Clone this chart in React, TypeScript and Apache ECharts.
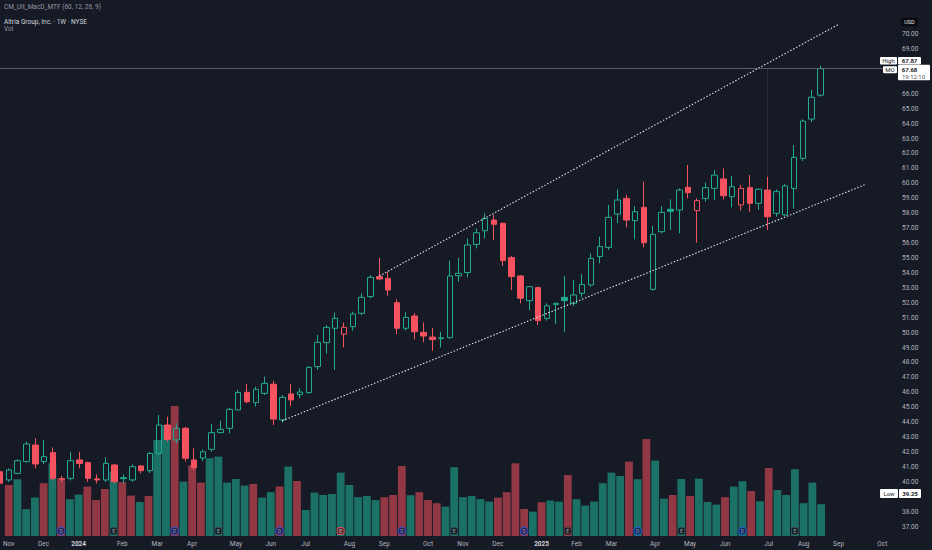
import React, { useEffect, useRef } from 'react';
import * as echarts from 'echarts';

// ---- Data ----
const START_WEEK = '2023-11-06';
const WEEK_SLOTS = 102; // weekly categories, incl. empty future weeks up to Oct 2025

const opens = [
  40.68, 40.13, 40.57, 41.36, 42.47, 41.36, 41.96, 40.18, 40.24, 41.47,
  41.29, 40.20, 40.13, 41.13, 40.28, 40.13, 41.07, 40.75, 41.90, 43.81,
  42.81, 43.59, 41.47, 41.60, 42.18, 43.30, 43.59, 44.82, 46.00, 45.31,
  45.93, 46.54, 44.15, 45.89, 45.84, 45.98, 47.72, 49.33, 50.29, 49.90,
  50.40, 51.29, 52.41, 53.75, 53.63, 52.00, 50.29, 51.11, 50.02, 49.70,
  49.60, 49.66, 53.81, 54.02, 55.91, 56.83, 57.54, 57.32, 55.02, 53.79,
  52.14, 53.01, 50.95, 51.89, 52.36, 51.96, 52.63, 53.19, 55.09, 55.71,
  57.94, 58.99, 57.50, 58.39, 52.90, 56.76, 58.26, 58.21, 59.73, 58.17,
  58.99, 59.66, 60.29, 59.10, 58.55, 59.71, 58.66, 59.55, 57.99, 57.88,
  59.66, 61.67, 64.30, 65.90,
];
const highs = [
  40.80, 40.90, 41.50, 42.70, 42.92, 42.81, 42.31, 40.40, 42.02, 42.02,
  41.35, 40.50, 41.65, 41.20, 40.50, 41.18, 41.10, 42.00, 44.48, 44.37,
  43.92, 43.70, 42.25, 42.18, 43.88, 44.10, 44.95, 46.16, 46.56, 46.38,
  47.05, 46.78, 45.82, 46.56, 46.27, 47.76, 49.84, 50.50, 51.34, 50.69,
  51.40, 52.63, 53.86, 55.00, 54.08, 52.23, 51.36, 51.30, 50.67, 50.31,
  50.06, 54.82, 55.00, 56.31, 56.98, 57.99, 57.88, 57.36, 55.13, 53.86,
  53.12, 53.08, 51.96, 52.00, 53.79, 53.52, 53.92, 55.31, 56.42, 58.55,
  59.60, 59.22, 58.48, 60.11, 57.14, 58.48, 58.93, 59.66, 61.23, 58.99,
  60.04, 60.89, 61.00, 60.49, 59.89, 60.55, 59.66, 60.44, 59.60, 59.95,
  62.56, 64.28, 66.25, 67.87,
];
const lows = [
  39.80, 40.00, 40.50, 41.30, 40.91, 41.20, 40.10, 40.00, 40.10, 40.91,
  40.00, 39.90, 40.00, 39.90, 39.90, 40.00, 40.57, 40.60, 41.80, 42.70,
  42.60, 41.36, 40.80, 41.40, 42.02, 43.25, 43.25, 44.80, 45.26, 45.04,
  45.82, 43.81, 43.97, 45.10, 45.60, 45.90, 47.50, 48.60, 47.50, 49.01,
  50.13, 51.18, 52.30, 53.50, 52.47, 49.90, 50.13, 49.55, 49.35, 48.79,
  49.01, 49.60, 53.41, 53.70, 55.64, 56.31, 56.20, 54.46, 52.85, 51.96,
  51.50, 50.51, 50.80, 50.58, 50.06, 51.78, 52.36, 53.08, 54.64, 55.53,
  57.32, 57.05, 56.25, 55.71, 52.81, 56.65, 56.87, 56.65, 58.99, 56.02,
  58.77, 58.88, 58.93, 58.39, 58.17, 58.10, 58.21, 56.87, 57.76, 57.80,
  58.30, 61.50, 64.10, 65.80,
];
const closes = [
  39.91, 40.80, 41.42, 42.54, 41.20, 41.69, 40.24, 40.22, 41.42, 41.24,
  40.24, 40.13, 41.24, 40.02, 40.22, 41.02, 40.75, 41.90, 43.81, 42.85,
  43.59, 41.58, 40.95, 42.02, 43.30, 43.52, 44.86, 45.98, 45.37, 46.20,
  46.60, 44.21, 45.66, 45.49, 46.02, 47.67, 49.35, 50.35, 50.96, 50.35,
  51.25, 52.36, 53.70, 53.59, 52.85, 50.29, 51.02, 50.06, 49.77, 49.53,
  49.65, 53.79, 53.97, 55.87, 56.69, 57.65, 57.25, 54.82, 53.75, 52.30,
  53.08, 50.80, 51.80, 51.96, 52.14, 52.52, 53.23, 54.97, 55.76, 57.72,
  58.88, 57.54, 58.10, 56.02, 56.58, 58.05, 58.12, 59.55, 59.37, 58.84,
  59.71, 60.55, 59.17, 59.77, 59.66, 58.66, 59.60, 57.76, 59.44, 59.82,
  61.74, 64.17, 65.76, 67.68,
];
// weekly volume, millions of shares
const volumes = [
  25.5, 28.4, 13.4, 19.2, 26.4, 36.4, 28.9, 18.4, 20.7, 24.7,
  18.0, 23.5, 32.2, 26.9, 20.2, 17.0, 20.0, 48.0, 55.5, 65.0,
  27.2, 35.4, 26.7, 38.9, 39.7, 26.7, 28.5, 25.2, 26.0, 19.2,
  21.9, 24.7, 34.7, 27.5, 13.0, 21.7, 20.5, 21.0, 31.7, 25.5,
  19.4, 20.0, 18.0, 19.4, 20.5, 35.0, 20.4, 21.9, 18.0, 16.4,
  14.7, 34.4, 19.4, 20.0, 18.5, 17.2, 19.2, 21.9, 36.4, 13.5,
  12.2, 16.9, 17.7, 17.2, 30.5, 18.4, 15.2, 17.2, 26.4, 31.7,
  30.0, 37.2, 28.4, 48.5, 37.7, 18.7, 20.5, 28.5, 20.0, 28.7,
  17.0, 15.7, 19.4, 24.7, 27.4, 22.5, 17.4, 34.0, 23.0, 20.5,
  33.4, 16.4, 26.7, 15.9,
];
const dividendWeeks = [6, 19, 31, 45, 59, 72, 84];
const earningsWeeks = [12, 24, 38, 51, 64, 77, 90];
const earningsMissWeeks = [38];
// trend lines: [week index, price]
const upperTrend = [[43, 53.79], [95, 70.63]];
const lowerTrend = [[32, 44.1], [98, 59.9]];
const cursorWeek = 87;
const lastPrice = 67.68;
const rangeHigh = 67.87;
const rangeLow = 39.25;
const countdown = '19:12:10';
const priceMin = 36;
const priceMax = 72;
const labelMin = 37;
const labelMax = 70;

const MONTHS = ['Jan', 'Feb', 'Mar', 'Apr', 'May', 'Jun', 'Jul', 'Aug', 'Sep', 'Oct', 'Nov', 'Dec'];

// ---- styling ----
const BG = '#161a25';
const UP = '#22ab94';
const DOWN = '#f7525f';
const FONT = 'Roboto, "Noto Sans", sans-serif';

function buildWeeks(): string[] {
  const [y, m, d] = START_WEEK.split('-').map(Number);
  const t0 = Date.UTC(y, m - 1, d);
  const out: string[] = [];
  for (let i = 0; i < WEEK_SLOTS; i++) {
    const dt = new Date(t0 + i * 7 * 86400000);
    out.push(dt.toISOString().slice(0, 10));
  }
  return out;
}

export default function App() {
  const ref = useRef<HTMLDivElement>(null);

  useEffect(() => {
    const el = ref.current;
    if (!el) return;
    const chart = echarts.init(el, undefined, { renderer: 'svg' });

    const weeks = buildWeeks();
    const monthOf = (i: number) => Number(weeks[i].slice(5, 7)) - 1;
    const isMonthStart = (i: number) => i === 0 || monthOf(i) !== monthOf(i - 1);

    const candleData = opens.map((o, i) => {
      const c = closes[i];
      const prev = i > 0 ? closes[i - 1] : o;
      const col = c >= prev ? UP : DOWN;
      const hollow = c > o;
      return {
        value: [o, c, lows[i], highs[i]],
        itemStyle: {
          color: hollow ? 'rgba(0,0,0,0)' : col,
          color0: col,
          borderColor: col,
          borderColor0: col,
        },
      };
    });

    const volData = volumes.map((v, i) => ({
      value: v,
      itemStyle: {
        color: closes[i] >= opens[i] ? 'rgba(34,171,148,0.6)' : 'rgba(247,82,95,0.55)',
      },
    }));

    const markerLevel = 2.5;
    const dividendData = dividendWeeks.map((w) => [w, markerLevel]);
    const earningsData = earningsWeeks.map((w) => ({
      value: [w, markerLevel],
      itemStyle: earningsMissWeeks.includes(w)
        ? { color: '#7a1f27', borderColor: '#f7525f' }
        : { color: '#0e1017', borderColor: '#434651' },
    }));

    const covered = [rangeHigh, lastPrice, rangeLow];
    const priceLabel = (v: number) => {
      if (v < labelMin || v > labelMax) return '';
      if (covered.some((c) => Math.abs(c - v) < 0.7)) return '';
      return v.toFixed(2);
    };

    const option: any = {
      animation: false,
      backgroundColor: BG,
      grid: [
        { left: 0, width: 891, top: 4.14, height: 537.48 },
        { left: 0, width: 891, bottom: 14, height: 200 },
      ],
      xAxis: [
        {
          type: 'category',
          gridIndex: 0,
          data: weeks,
          boundaryGap: false,
          axisLine: { show: false },
          axisTick: { show: false },
          axisLabel: { show: false },
          splitLine: { show: false },
        },
        {
          type: 'category',
          gridIndex: 1,
          data: weeks,
          boundaryGap: false,
          axisLine: { show: false },
          axisTick: { show: false },
          splitLine: { show: false },
          axisLabel: {
            interval: (idx: number) => isMonthStart(idx),
            margin: 4,
            color: '#b2b5be',
            fontSize: 6.5,
            fontFamily: FONT,
            alignMinLabel: 'center',
            alignMaxLabel: 'center',
            formatter: (val: string) => {
              const mo = Number(val.slice(5, 7)) - 1;
              if (mo === 0) return '{y|' + val.slice(0, 4) + '}';
              return MONTHS[mo];
            },
            rich: {
              y: { fontWeight: 'bold', color: '#d1d4dc', fontSize: 6.5, fontFamily: FONT },
            },
          },
        },
      ],
      yAxis: [
        {
          type: 'value',
          gridIndex: 0,
          position: 'right',
          min: priceMin,
          max: priceMax,
          interval: 1,
          axisLine: { show: false },
          axisTick: { show: false },
          splitLine: { show: false },
          axisLabel: {
            margin: 11,
            color: '#b2b5be',
            fontSize: 6.5,
            fontFamily: FONT,
            formatter: priceLabel,
          },
        },
        {
          type: 'value',
          gridIndex: 1,
          min: 0,
          max: 100,
          show: false,
        },
      ],
      series: [
        {
          type: 'bar',
          name: 'Vol',
          xAxisIndex: 1,
          yAxisIndex: 1,
          data: volData,
          barWidth: 7.8,
          z: 1,
          silent: true,
        },
        {
          type: 'scatter',
          xAxisIndex: 1,
          yAxisIndex: 1,
          data: dividendData,
          symbol: 'circle',
          symbolSize: 8,
          z: 5,
          itemStyle: { color: '#152150', borderColor: '#2962ff', borderWidth: 1 },
          label: { show: true, formatter: 'D', color: '#aab4ff', fontSize: 5, fontFamily: FONT, position: 'inside' },
        },
        {
          type: 'scatter',
          xAxisIndex: 1,
          yAxisIndex: 1,
          data: earningsData,
          symbol: 'roundRect',
          symbolSize: 7,
          z: 5,
          itemStyle: { borderWidth: 1 },
          label: { show: true, formatter: 'E', color: '#c8cad0', fontSize: 5, fontFamily: FONT, position: 'inside' },
        },
        {
          type: 'candlestick',
          name: 'MO',
          xAxisIndex: 0,
          yAxisIndex: 0,
          data: candleData,
          barWidth: 6,
          z: 3,
          itemStyle: { borderWidth: 1 },
          markLine: {
            silent: true,
            symbol: ['none', 'none'],
            label: { show: false },
            lineStyle: { color: '#6a6d78', width: 0.8, type: 'solid' },
            data: [{ yAxis: lastPrice }],
          },
        },
        {
          // faint crosshair stem
          type: 'line',
          xAxisIndex: 0,
          yAxisIndex: 0,
          data: [
            [cursorWeek, lastPrice],
            [cursorWeek, highs[cursorWeek]],
          ],
          symbol: 'none',
          silent: true,
          z: 2,
          lineStyle: { color: '#3a3e49', width: 0.8, opacity: 0.7 },
        },
        {
          type: 'line',
          xAxisIndex: 0,
          yAxisIndex: 0,
          data: upperTrend,
          symbol: 'none',
          silent: true,
          z: 4,
          lineStyle: { color: '#e0e3eb', width: 1.1, type: [1.5, 1.8] },
        },
        {
          type: 'line',
          xAxisIndex: 0,
          yAxisIndex: 0,
          data: lowerTrend,
          symbol: 'none',
          silent: true,
          z: 4,
          lineStyle: { color: '#e0e3eb', width: 1.1, type: [1.5, 1.8] },
        },
      ],
    };

    chart.setOption(option);

    const py = (v: number) => chart.convertToPixel({ yAxisIndex: 0 }, v) as number;
    const box = (x: number, y: number, w: number, h: number, fill: string, z = 50) => ({
      type: 'rect',
      z,
      shape: { x, y, width: w, height: h, r: 1 },
      style: { fill },
    });
    const txt = (x: number, y: number, s: string, fill: string, size = 6, align = 'center', weight = 'normal') => ({
      type: 'text',
      z: 60,
      x,
      y,
      style: {
        text: s,
        fill,
        fontSize: size,
        fontFamily: FONT,
        fontWeight: weight,
        align,
        verticalAlign: 'middle',
        textAlign: align,
        textVerticalAlign: 'middle',
      },
    });

    const yHigh = py(rangeHigh) - 5.2;
    const yLast = py(lastPrice);
    const yLow = py(rangeLow);
    const dark = '#131722';

    const graphics: any[] = [
      txt(4, 7, 'CM_Ult_MacD_MTF (60, 12, 26, 9)', '#9598a1', 6.5, 'left'),
      txt(4, 21.5, 'Altria Group, Inc. · 1W · NYSE', '#d1d4dc', 6.5, 'left'),
      txt(4, 28.5, 'Vol', '#9598a1', 6.5, 'left'),
      box(901, 17.5, 17, 9, '#0b0d12'),
      txt(909.5, 22, 'USD', '#e0e3eb', 5.5),
      // High
      box(880, yHigh - 3.5, 17, 7.5, '#ffffff'),
      txt(888.5, yHigh, 'High', dark, 6),
      box(898, yHigh - 3.5, 23, 7.5, '#ffffff'),
      txt(909.5, yHigh, rangeHigh.toFixed(2), dark, 6, 'center', 'bold'),
      // last price
      box(883, yLast - 2.5, 14, 7, '#ffffff'),
      txt(890, yLast + 1, 'MO', dark, 6),
      box(898, yLast - 4, 32, 15.5, '#ffffff'),
      txt(909.5, yLast + 0.5, lastPrice.toFixed(2), dark, 6, 'center', 'bold'),
      txt(913.5, yLast + 7.8, countdown, '#50535e', 6),
      // Low
      box(880, yLow - 4, 18, 9, '#ffffff'),
      txt(889, yLow + 0.5, 'Low', dark, 6),
      box(899, yLow - 4, 22, 9, '#ffffff'),
      txt(910, yLow + 0.5, rangeLow.toFixed(2), dark, 6, 'center', 'bold'),
    ];

    chart.setOption({ graphic: graphics });

    return () => {
      chart.dispose();
    };
  }, []);

  return (
    <div
      ref={ref}
      style={{ position: 'fixed', left: 0, top: 0, width: 932, height: 550, background: BG }}
    />
  );
}
